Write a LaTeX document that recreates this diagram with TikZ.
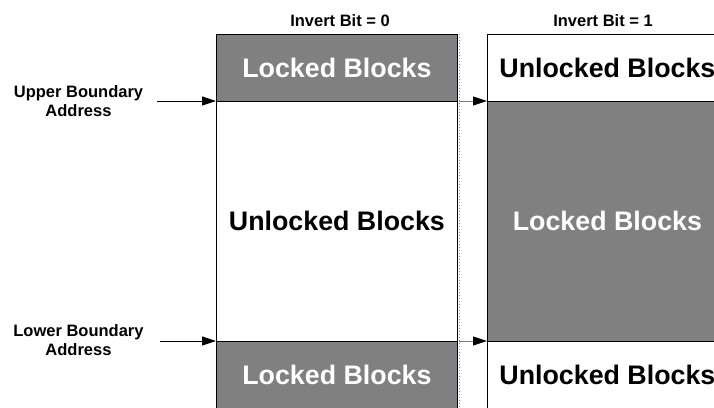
\documentclass[tikz,border=0pt]{standalone}
\usepackage{fontspec}
\setmainfont{Liberation Sans}
\usepackage{tikz}
\usetikzlibrary{arrows.meta,positioning}
\definecolor{lockgray}{RGB}{128,128,128}
\definecolor{guideblue}{RGB}{120,155,175}
\tikzset{
  every picture/.style = {
    line width = 0.8pt,
    >={Triangle[length=14pt,width=9pt,color=black]},
    x = 1pt,
    y = -1pt
  }
  ,
  block/.style = {
    rectangle,
    draw,
    anchor = north west,
    inner sep = 0pt,
    font = \fontsize{26.8}{28}\selectfont\bfseries
  }
  , % address ranges
  locked/.style = {
    block,
    fill = lockgray,
    text = white
  }
  ,
  unlocked/.style = {
    block,
    fill = white,
    text = black
  }
  , % column titles and boundary names
  label-head/.style = {
    anchor = base,
    font = \fontsize{16.5}{19}\selectfont\bfseries
  }
  ,
  label-addr/.style = {
    align = center,
    inner sep = 0pt,
    font = \fontsize{16.5}{19}\selectfont\bfseries
  }
}

\begin{document}
\begin{tikzpicture}
  \clip (0,0) rectangle (714,407);
  % invert bit = 0
  \node[locked, minimum width=241pt, minimum height=67pt] at (216,34) (lt) {Locked Blocks};
  \node[unlocked, minimum width=241pt, minimum height=240pt] at (216,101) (lm) {Unlocked Blocks};
  \node[locked, minimum width=241pt, minimum height=67pt] at (216,341) (lb) {Locked Blocks};
  % invert bit = 1
  \node[unlocked, minimum width=240pt, minimum height=67pt] at (487,34) (rt) {Unlocked Blocks};
  \node[locked, minimum width=240pt, minimum height=240pt] at (487,101) (rm) {Locked Blocks};
  \node[unlocked, minimum width=240pt, minimum height=67pt] at (487,341) (rb) {Unlocked Blocks};
  \node[label-head] at (340,26) (h0) {Invert Bit = 0};
  \node[label-head] at (603,26) (h1) {Invert Bit = 1};
  \node[label-addr] at (78.5,101) (upper) {Upper Boundary\\Address};
  \node[label-addr] at (78.5,340) (lower) {Lower Boundary\\Address};
  \coordinate (upper-in) at (157,101);
  \coordinate (lower-in) at (160,341);
  \coordinate (sep-top) at (459,34);
  \coordinate (sep-bot) at (459,407);
  \coordinate (sep-up) at (459,101);
  \coordinate (sep-lo) at (459,341);
  \draw[guideblue, line width=1pt, dotted] (sep-top) -- (sep-bot);
  \draw[->] (upper-in) -- (lm.north west);
  \draw[->] (lower-in) -- (lb.north west);
  \draw[->, draw=gray] (sep-up) -- (rm.north west);
  \draw[->, draw=gray] (sep-lo) -- (rb.north west);
\end{tikzpicture}
\end{document}
